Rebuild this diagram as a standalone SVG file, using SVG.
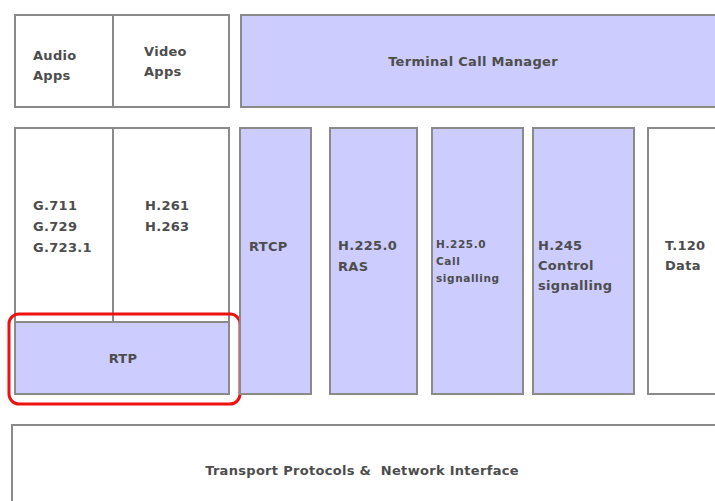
<svg xmlns="http://www.w3.org/2000/svg" width="715" height="501" viewBox="0 0 715 501">
<style>
.w{fill:#ffffff;stroke:#8a8a8a;stroke-width:2}
.p{fill:#ccccff;stroke:#8a8a8a;stroke-width:2}
text{font-family:"DejaVu Sans",Verdana,sans-serif;font-size:13px;font-weight:bold;fill:#4d4d4d;letter-spacing:0.3px}
.s{font-size:10.5px;letter-spacing:0.6px}
.c{text-anchor:middle}
</style>
<rect width="715" height="501" fill="#ffffff"/>
<g id="audio-apps"><rect class="w" x="15" y="15" width="98" height="92"/><text x="33" y="60">Audio</text><text x="33" y="80">Apps</text></g>
<g id="video-apps"><rect class="w" x="113" y="15" width="116" height="92"/><text x="144" y="56">Video</text><text x="144" y="76">Apps</text></g>
<g id="terminal-call-manager"><rect class="p" x="241" y="15" width="480" height="92"/><text class="c" x="473" y="66">Terminal Call Manager</text></g>
<g id="audio-codecs"><rect class="w" x="15" y="128" width="98" height="194"/><text x="33" y="210">G.711</text><text x="33" y="231">G.729</text><text x="33" y="252">G.723.1</text></g>
<g id="video-codecs"><rect class="w" x="113" y="128" width="116" height="194"/><text x="145" y="210">H.261</text><text x="145" y="231">H.263</text></g>
<g id="rtp"><rect class="p" x="15" y="322" width="214" height="72"/><text class="c" x="123" y="363">RTP</text></g>
<g id="rtp-highlight"><rect x="9" y="314" width="231" height="90" rx="10" fill="none" stroke="#ee1111" stroke-width="3"/></g>
<g id="rtcp"><rect class="p" x="240" y="128" width="71" height="266"/><text x="249" y="251">RTCP</text></g>
<g id="ras"><rect class="p" x="330" y="128" width="87" height="266"/><text x="338" y="250">H.225.0</text><text x="338" y="271">RAS</text></g>
<g id="call-signalling"><rect class="p" x="432" y="128" width="91" height="266"/><text class="s" x="436" y="248">H.225.0</text><text class="s" x="436" y="265">Call</text><text class="s" x="436" y="282">signalling</text></g>
<g id="h245"><rect class="p" x="533" y="128" width="101" height="266"/><text x="538" y="250">H.245</text><text x="538" y="270">Control</text><text x="538" y="290">signalling</text></g>
<g id="t120"><rect class="w" x="648" y="128" width="80" height="266"/><text x="665" y="250">T.120</text><text x="665" y="270">Data</text></g>
<g id="transport"><rect class="w" x="12" y="425" width="720" height="90"/><text class="c" x="362" y="475" xml:space="preserve">Transport Protocols &amp;  Network Interface</text></g>
<g id="connectors"/>
</svg>
